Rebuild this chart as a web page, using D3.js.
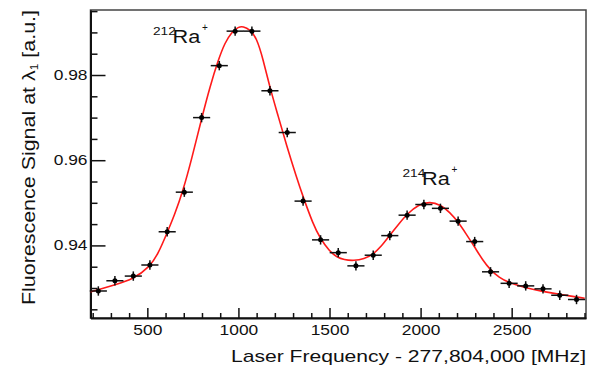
<!DOCTYPE html>
<html>
<head>
<meta charset="utf-8">
<script src="https://cdn.jsdelivr.net/npm/d3@7"></script>
<style>
	body { margin: 0; background: white; }
	text { font-family: "Liberation Sans", Arial, sans-serif; fill: #111; }
</style>
</head>
<body>
<svg id="chart"></svg>
<script>
(function(){

	//measured points (frequency offset in MHz, signal)
	var freq = [231, 322, 423, 514, 609, 703, 798, 895, 982, 1074, 1173, 1268, 1355, 1451, 1548,
		1645, 1740, 1831, 1926, 2018, 2109, 2206, 2297, 2384, 2486, 2577, 2672, 2764, 2856];
	var signal = [0.9293, 0.9317, 0.9328, 0.9354, 0.9432, 0.9525, 0.9700, 0.9822, 0.9903, 0.9903,
		0.9763, 0.9665, 0.9504, 0.9413, 0.9383, 0.9352, 0.9377, 0.9423, 0.9471, 0.9496, 0.9487,
		0.9457, 0.9409, 0.9338, 0.9311, 0.9305, 0.9298, 0.9283, 0.9273];
	var freqErr = 47;		//half bin width
	var signalErr = 0.0011;

	//fit curve
	var fitFreq = [188, 231, 320, 423, 514, 560, 606, 650, 697, 743, 798, 844, 889, 926, 963, 1000,
		1026, 1063, 1100, 1135, 1173, 1218, 1264, 1319, 1355, 1410, 1447, 1500, 1539, 1580, 1634,
		1690, 1739, 1785, 1831, 1880, 1926, 1990, 2051, 2110, 2160, 2206, 2250, 2297, 2340, 2384,
		2430, 2486, 2580, 2670, 2764, 2901];
	var fitSignal = [0.9291, 0.9296, 0.9307, 0.9321, 0.9350, 0.9381, 0.9427, 0.9472, 0.9530, 0.9602,
		0.9698, 0.9773, 0.9835, 0.9876, 0.9901, 0.9913, 0.9914, 0.9907, 0.9887, 0.9838, 0.9770,
		0.9704, 0.9635, 0.9560, 0.9514, 0.9450, 0.9418, 0.9386, 0.9373, 0.9366, 0.9364, 0.9368,
		0.9379, 0.9398, 0.9424, 0.9450, 0.9474, 0.9496, 0.9503, 0.9495, 0.9478, 0.9455, 0.9427,
		0.9396, 0.9366, 0.9342, 0.9325, 0.9312, 0.9300, 0.9292, 0.9285, 0.9276];

	var xMajor = [500, 1000, 1500, 2000, 2500];
	var yMajor = [0.94, 0.96, 0.98];
	var xLabel = "Laser Frequency - 277,804,000 [MHz]";
	var peakLabels = ["212", "214"];

	//SVG Configurations
	var svgWidth = 598, svgHeight = 369;
	var left = 90.5, right = 586, top = 10, bottom = 318;
	var stretch = 1.24;		//text in the figure is wider than Arial

	var svg = d3.select("#chart")
		.attr("width", svgWidth)
		.attr("height", svgHeight);

	var x = d3.scaleLinear().domain([188, 2908]).range([left, right]);
	var y = d3.scaleLinear().domain([0.92296, 0.99526]).range([bottom, top]);

	var xMinor = d3.range(200, 2901, 100).filter(function(v){ return v % 500 != 0; });
	var yMinor = d3.range(0.925, 0.9951, 0.005).filter(function(v){
		return !yMajor.some(function(m){ return Math.abs(m - v) < 1e-6; });
	});

	//frame
	svg.append("rect")
		.attr("x", left).attr("y", top)
		.attr("width", right - left).attr("height", bottom - top)
		.attr("fill", "none")
		.attr("stroke", "#444")
		.attr("stroke-width", 1.5);

	//minor ticks first, then majors with labels
	svg.append("g")
		.attr("transform", "translate(0," + bottom + ")")
		.call(d3.axisBottom(x).tickValues(xMinor).tickSize(-5).tickFormat(""))
		.call(function(g){ g.select(".domain").remove(); });
	svg.append("g")
		.attr("transform", "translate(" + left + ",0)")
		.call(d3.axisLeft(y).tickValues(yMinor).tickSize(-7).tickFormat(""))
		.call(function(g){ g.select(".domain").remove(); });

	var xAxis = svg.append("g")
		.attr("transform", "translate(0," + bottom + ")")
		.call(d3.axisBottom(x).tickValues(xMajor).tickSize(-10).tickSizeOuter(0).tickPadding(7)
			.tickFormat(d3.format("d")));
	var yAxis = svg.append("g")
		.attr("transform", "translate(" + left + ",0)")
		.call(d3.axisLeft(y).tickValues(yMajor).tickSize(-15).tickSizeOuter(0).tickPadding(3)
			.tickFormat(d3.format(".2f")));

	svg.selectAll(".tick line").attr("stroke", "#111").attr("stroke-width", 1.5);
	[xAxis, yAxis].forEach(function(a){
		a.select(".domain").attr("stroke", "#111").attr("stroke-width", 2);
		a.selectAll("text")
			.attr("font-size", 14)
			.attr("font-family", "Liberation Sans, Arial, sans-serif")
			.attr("fill", "#111");
	});
	widen(svg.selectAll(".tick text"));

	//fit curve
	var line = d3.line()
		.x(function(d){ return x(d[0]); })
		.y(function(d){ return y(d[1]); })
		.curve(d3.curveBasis);
	svg.append("path")
		.datum(d3.zip(fitFreq, fitSignal))
		.attr("d", line)
		.attr("fill", "none")
		.attr("stroke", "#ff1a1a")
		.attr("stroke-width", 1.6);

	//data points with error bars
	var pts = svg.append("g").selectAll("g")
		.data(d3.zip(freq, signal))
		.enter()
		.append("g");
	pts.append("line")
		.attr("x1", function(d){ return x(d[0] - freqErr); })
		.attr("x2", function(d){ return x(d[0] + freqErr); })
		.attr("y1", function(d){ return y(d[1]); })
		.attr("y2", function(d){ return y(d[1]); })
		.attr("stroke", "#111").attr("stroke-width", 1.5);
	pts.append("line")
		.attr("x1", function(d){ return x(d[0]); })
		.attr("x2", function(d){ return x(d[0]); })
		.attr("y1", function(d){ return y(d[1] - signalErr); })
		.attr("y2", function(d){ return y(d[1] + signalErr); })
		.attr("stroke", "#111").attr("stroke-width", 1.5);
	pts.append("circle")
		.attr("cx", function(d){ return x(d[0]); })
		.attr("cy", function(d){ return y(d[1]); })
		.attr("r", 2.5)
		.attr("fill", "#000");

	//axis titles
	var xt = svg.append("text")
		.attr("x", right).attr("y", 362)
		.attr("text-anchor", "end")
		.attr("font-size", 17)
		.text(xLabel);
	widen(xt);

	var yt = svg.append("text")
		.attr("transform", "translate(35," + top + ") rotate(-90)")
		.attr("text-anchor", "end")
		.attr("font-size", 18)
		.attr("textLength", 295)
		.attr("lengthAdjust", "spacingAndGlyphs");
	yt.append("tspan").text("Fluorescence Signal at \u03bb");
	yt.append("tspan").attr("font-size", 10).attr("dy", 3).text("1");
	yt.append("tspan").attr("dy", -3).text(" [a.u.]");

	//peak labels
	addIsotope(peakLabels[0], 153, 43.3);
	addIsotope(peakLabels[1], 402.5, 185);

	function addIsotope(mass, xPos, yBase){
		var g = svg.append("g").attr("transform", "translate(" + xPos + "," + yBase + ")");
		var m = g.append("text").attr("x", 0).attr("y", -8).attr("font-size", 11).text(mass);
		widen(m);
		var ra = g.append("text").attr("x", 19.5).attr("y", 0).attr("font-size", 17.5).text("Ra");
		widen(ra);
		g.append("text").attr("x", 49).attr("y", -12).attr("font-size", 10).text("+");
	}

	//stretches text horizontally along its direction
	function widen(sel){
		sel.each(function(){
			var w = this.getComputedTextLength();
			d3.select(this)
				.attr("textLength", w * stretch)
				.attr("lengthAdjust", "spacingAndGlyphs");
		});
	}

})();
</script>
</body>
</html>
